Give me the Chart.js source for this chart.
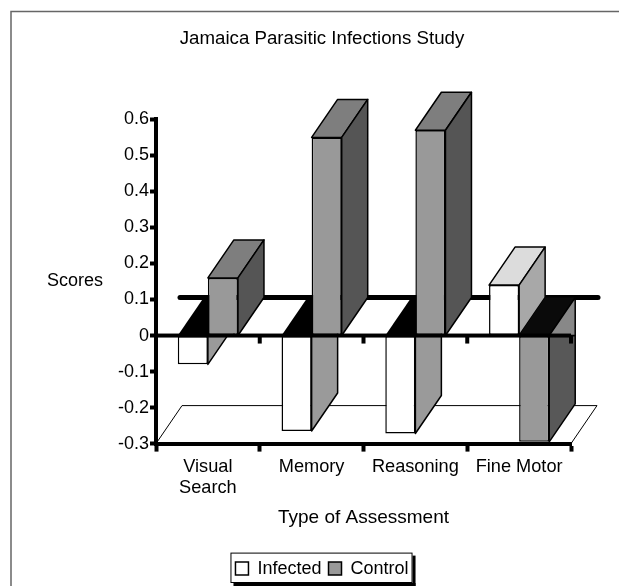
<!DOCTYPE html>
<html><head><meta charset="utf-8">
<style>html,body{margin:0;padding:0;background:#fff}#w{width:619px;height:586px;position:relative}</style>
<script src="https://cdn.jsdelivr.net/npm/chart.js@4"></script>
</head><body><div id="w"><canvas id="c" width="619" height="586"></canvas></div>
<script>
const categories = [['Visual','Search'],'Memory','Reasoning','Fine Motor'];
const infected = [-0.08,-0.265,-0.272,0.14];
const control = [0.16,0.55,0.57,-0.295];
const yTicks = [0.6,0.5,0.4,0.3,0.2,0.1,0,-0.1,-0.2,-0.3];
const FONT = '"Liberation Sans", Arial, sans-serif';
const DX = 26, DY = 38;
const faces = [
  {top:'#dcdcdc', side:'#a8a8a8', negTop:'#000', negSide:'#9a9a9a', negSideUp:'#9a9a9a'},
  {top:'#7e7e7e', side:'#555', negTop:'#0a0a0a', negSide:'#585858', negSideUp:'#888'}
];
function poly(ctx, pts, fill, lw){
  ctx.beginPath();
  pts.forEach((p,i)=> i?ctx.lineTo(p[0],p[1]):ctx.moveTo(p[0],p[1]));
  ctx.closePath();
  if(fill){ctx.fillStyle=fill;ctx.fill();}
  if(lw){ctx.lineWidth=lw;ctx.strokeStyle='#000';ctx.lineJoin='round';ctx.stroke();}
}
const threeD = {
  id:'threeD',
  beforeDatasetsDraw(chart){
    const ctx=chart.ctx, a=chart.chartArea, y=chart.scales.y, y0=y.getPixelForValue(0), yb=y.getPixelForValue(-0.3);
    ctx.save();
    ctx.strokeStyle='#000';ctx.lineWidth=1;
    ctx.beginPath();ctx.moveTo(a.left,yb);ctx.lineTo(a.left+DX,yb-DY);ctx.lineTo(a.right+DX,yb-DY);ctx.lineTo(a.right,yb);ctx.stroke();
    ctx.lineWidth=5;ctx.lineCap='round';
    ctx.beginPath();ctx.moveTo(a.left+24,y0-DY);ctx.lineTo(a.right+DX+1,y0-DY);ctx.stroke();
    ctx.lineCap='butt';
    [0,1].forEach(d=>{
      const meta=chart.getDatasetMeta(d), f=faces[d];
      meta.data.forEach(b=>{
        const l=b.x-b.width/2, r=b.x+b.width/2, t=b.y, neg=t>y0;
        if(neg){
          poly(ctx,[[l,y0],[r,y0],[r+DX,y0-DY],[l+DX,y0-DY]],f.negTop,0);
          poly(ctx,[[r,t],[r,y0],[r+DX,y0],[r+DX,t-DY]],f.negSide,1.5);
          poly(ctx,[[r,y0],[r+DX,y0-DY],[r+DX,y0]],f.negSideUp,1.5);
        } else {
          poly(ctx,[[l,t],[r,t],[r+DX,t-DY],[l+DX,t-DY]],f.top,1.5);
          poly(ctx,[[r,t],[r+DX,t-DY],[r+DX,y0-DY],[r,y0]],f.side,1.5);
        }
      });
    });
    ctx.restore();
  },
  afterDatasetsDraw(chart){
    const ctx=chart.ctx,a=chart.chartArea,y0=chart.scales.y.getPixelForValue(0),x=chart.scales.x;
    ctx.save();
    ctx.fillStyle='#000';
    ctx.fillRect(a.left,y0-2,a.right-a.left,4);
    categories.forEach((c,i)=>{
      const px=x.getPixelForValue(i)+ (x.getPixelForValue(1)-x.getPixelForValue(0))/2;
      ctx.fillRect(px-2,y0,4,8);
    });
    ctx.restore();
  },
  afterDraw(chart){
    const ctx=chart.ctx,l=chart.legend;
    ctx.save();
    ctx.strokeStyle='#666';ctx.lineWidth=1.5;
    ctx.beginPath();ctx.moveTo(11,586);ctx.lineTo(11,11.5);ctx.lineTo(619,11.5);ctx.stroke();
    ctx.fillStyle='#000';ctx.font='18px '+FONT;ctx.textAlign='left';ctx.textBaseline='middle';
    ctx.fillText('Scores',47,281);
    const hb=l.legendHitBoxes, L=hb[0].left-5, R=hb[hb.length-1].left+hb[hb.length-1].width+4, T=l.top, B=l.bottom-4.6;
    ctx.fillStyle='#000';
    ctx.fillRect(R,T+3,3,B-T);ctx.fillRect(L+3,B,R-L,3);
    ctx.strokeStyle='#000';ctx.lineWidth=1;ctx.strokeRect(L+.5,T+.5,R-L-1,B-T-1);
    ctx.restore();
  }
};
new Chart(document.getElementById('c'),{
  type:'bar',
  data:{labels:categories,datasets:[
    {label:'Infected',data:infected,backgroundColor:'#fff',borderColor:'#000',borderWidth:1.5,borderSkipped:false,categoryPercentage:0.58,barPercentage:1},
    {label:'Control',data:control,backgroundColor:'#999',borderColor:'#000',borderWidth:1.5,borderSkipped:false,categoryPercentage:0.58,barPercentage:1}
  ]},
  plugins:[threeD],
  options:{
    responsive:false,animation:false,
    layout:{padding:{left:73,right:48,top:0,bottom:-1.6}},
    plugins:{
      title:{display:true,text:'Jamaica Parasitic Infections Study',color:'#000',font:{family:FONT,size:18.7,weight:'normal'},padding:{top:28,bottom:69}},
      legend:{position:'bottom',labels:{color:'#000',font:{family:FONT,size:18},boxWidth:13,boxHeight:13,padding:7}},
      tooltip:{enabled:false}
    },
    scales:{
      x:{
        afterFit(s){s.height=109;},
        grid:{drawOnChartArea:false,tickLength:8,tickWidth:4,tickColor:'#000'},
        border:{color:'#000',width:4},
        ticks:{color:'#000',font:{family:FONT,size:18.2},maxRotation:0,autoSkip:false,padding:4},
        title:{display:true,text:'Type of Assessment',color:'#000',font:{family:FONT,size:19},padding:{top:12,bottom:23.6}}
      },
      y:{
        min:-0.3,max:0.6,
        afterBuildTicks(s){s.ticks=yTicks.map(v=>({value:v}));},
        afterFit(s){s.width=83;},
        grid:{drawOnChartArea:false,tickLength:6,tickWidth:4,tickColor:'#000'},
        border:{color:'#000',width:4},
        ticks:{color:'#000',font:{family:FONT,size:18},padding:1,callback:v=>String(Math.round(v*10)/10)}
      }
    }
  }
});
</script></body></html>
